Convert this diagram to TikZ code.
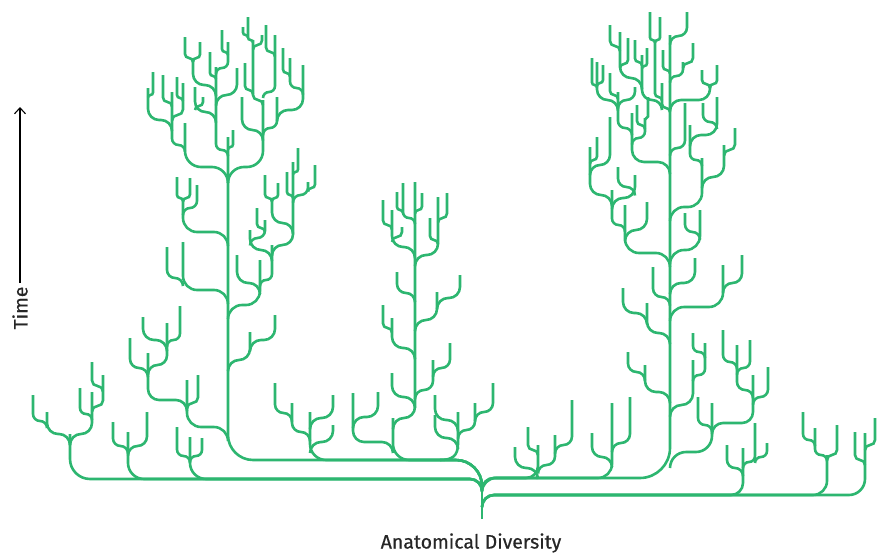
\documentclass[tikz,border=0pt]{standalone}
\usepackage{fontspec}
\setmainfont{Fira Sans}
\newfontfamily\lblfont{Fira Sans}[FakeBold=0.5]
\usetikzlibrary{arrows.meta}
\definecolor{tg}{HTML}{2DB670}
\tikzset{tree/.style={draw=tg,line width=2.6pt},
  axisline/.style={draw=black,line width=1.1pt},
  lbl/.style={font=\lblfont\fontsize{19.5}{22}\selectfont,text=black!85,inner sep=0pt}}
% R1 R2 xtip ytip yjunction xparent
\newcommand\brg[6]{%
  \pgfmathsetmacro\bdx{#6-#3}%
  \pgfmathsetmacro\bra{min(#1,abs(\bdx)/2)}%
  \pgfmathsetmacro\brb{min(#2,abs(\bdx)/2)}%
  \pgfmathsetmacro\bsg{ifthenelse(\bdx<0,-1,1)}%
  \pgfmathsetmacro\pA{#5-\bra}%
  \pgfmathsetmacro\pB{#5-0.45*\bra}%
  \pgfmathsetmacro\pC{\bsg*0.45*\bra+#3}%
  \pgfmathsetmacro\pD{\bsg*\bra+#3}%
  \pgfmathsetmacro\pE{\bsg*(0-\brb)+#6}%
  \pgfmathsetmacro\pF{\bsg*(0-0.45*\brb)+#6}%
  \pgfmathsetmacro\pG{#5+0.45*\brb}%
  \pgfmathsetmacro\pH{#5+\brb}%
  \draw[tree] (#3,#4) -- (#3,\pA) .. controls (#3,\pB) and (\pC,#5) .. (\pD,#5) -- (\pE,#5) .. controls (\pF,#5) and (#6,\pG) .. (#6,\pH);
}
\begin{document}
\begin{tikzpicture}[x=1pt,y=-1pt]
\useasboundingbox (0,0) rectangle (884,555);
% root stem
\coordinate (r0) at (482,519);
\coordinate (r1) at (482,486);
\draw[tree] (r0) -- (r1);
% main lines to the root
\foreach \ra/\rb/\a/\b/\c/\d in {
 20/12/70/434/479/482, 16/12/128/432/479/482, 16/12/190/437/479/482,
 25/26/228/137/460/482, 16/26/310/412/460/482, 16/26/393/418/460/482,
 12/12/538/445/478/482, 14/12/612/403/478/482, 30/14/670/35/478/482,
 12/12/743/448/495/482, 14/12/827/455/495/482, 16/12/865/433/495/482}
 {\brg{\ra}{\rb}{\a}{\b}{\c}{\d}}
% group F stem curving back into the upper left line
\coordinate (f0) at (458,412);
\coordinate (f1) at (440,460);
\draw[tree] (f0) -- (458,444) .. controls (458,456) and (452,460) .. (f1);
% medium branches
\foreach \ra/\a/\b/\c/\d in {
 14/187/380/427/228, 14/260/260/305/228, 14/183/198/232/228, 14/183/242/290/228,
 16/185/123/167/228, 16/263/100/167/228, 14/250/332/360/228,
 14/415/182/418/393,
 14/625/205/253/670, 14/723/265/307/670, 16/712/403/452/670, 14/702/158/207/670,
 14/700/210/250/670, 14/693/360/405/670, 12/632/113/162/670}
 {\brg{\ra}{\ra}{\a}{\b}{\c}{\d}}
% small branches
\foreach \a/\b/\c/\d in {
 33/395/421/47, 47/412/434/70, 92/392/434/70, 80/388/414/92, 103/375/406/92, 92/362/386/103,
 113/422/446/128, 147/412/446/128, 177/427/456/190, 202/438/456/190,
 198/375/403/187, 148/353/400/187, 167/323/365/148, 143/317/340/167, 180/306/340/167,
 130/338/368/148, 275/315/340/250,
 237/255/283/260, 272/245/280/260, 250/230/250/272, 265/220/238/250, 257/208/228/265,
 293/162/245/272, 287/172/195/293, 308/182/195/293, 315/165/188/308, 298/148/172/293,
 265/175/198/272, 278/183/198/272, 272/198/223/293,
 177/177/198/183, 190/178/198/183, 197/185/208/183, 167/247/278/183,
 216/67/150/228, 233/130/147/228,
 172/92/145/185, 148/88/120/172, 153/72/95/148, 163/75/102/172, 177/77/98/183, 183/83/115/172,
 195/87/112/216, 203/97/106/195, 193/58/85/216, 185/37/58/193, 200/42/58/193,
 210/52/76/216, 222/30/52/228, 228/42/68/216, 237/68/95/216,
 242/97/130/263, 277/97/128/263, 253/40/100/263, 245/63/90/253, 248/17/40/253,
 243/27/35/248, 262/35/45/253, 275/35/92/263, 266/25/52/275,
 303/65/110/277, 290/58/88/303, 283/48/73/290,
 353/393/442/393, 378/392/417/353, 392/318/348/415, 383/305/328/392,
 437/292/320/415, 460/275/298/437, 450/343/368/433, 433/360/390/415, 392/373/397/415,
 397/272/293/415, 438/197/255/415, 447/193/218/438, 430/218/240/438,
 403/183/218/415, 397/192/210/403, 392/210/247/415, 383/200/225/392, 402/227/237/392,
 422/193/210/415,
 292/403/432/310, 275/383/413/292, 333/395/418/310, 333/425/442/310,
 435/395/420/458, 435/415/438/458, 475/403/430/458, 493/383/412/475,
 687/12/36/670, 663/50/70/670, 683/62/76/670, 693/43/63/683,
 662/83/108/670, 655/40/97/662, 650/12/40/655, 660/17/40/655,
 642/55/100/662, 620/32/78/642, 635/40/62/642, 647/48/66/642, 610/25/46/620, 628/38/64/620,
 702/70/84/710, 717/65/84/710, 710/84/100/670,
 592/58/85/597, 603/65/83/597, 597/62/100/618, 610/73/95/618, 635/87/100/618, 618/92/128/632,
 637/105/125/645, 648/97/118/645, 645/118/138/632,
 735/128/150/724, 724/145/177/702, 690/125/160/702, 717/97/135/690, 703/103/122/717,
 685/103/148/670,
 647/202/230/625, 612/190/225/625, 590/147/195/612, 635/175/198/612, 618/167/187/635,
 610/117/165/590, 597/137/160/590, 685/213/232/700,
 653/267/297/670, 695/258/283/670, 742/255/283/723,
 647/303/333/670, 623/288/313/647, 645/365/392/670, 628/352/372/645,
 705/343/375/693, 693/333/352/705,
 698/397/425/712, 753/375/423/712, 768/367/397/753, 737/345/390/753, 723/330/362/737,
 750/340/368/737,
 727/445/468/743, 755/423/462/743, 767/443/457/755,
 815/428/455/827, 803/412/440/815, 837/425/455/827,
 855/432/460/865, 875/418/445/865,
 515/447/468/538, 528/427/450/538, 555/435/465/538, 572/400/445/555,
 592/433/457/612, 630/397/443/612}
 {\brg{11}{11}{\a}{\b}{\c}{\d}}
% time axis
\coordinate (t0) at (20,283);
\coordinate (t1) at (20,107);
\draw[axisline,-{Straight Barb[length=6pt,width=11pt]}] (t0) -- (t1);
\node[lbl,rotate=90] (tl) at (20,308) {Time};
\node[lbl] (xl) at (471,543) {Anatomical Diversity};
\end{tikzpicture}
\end{document}
